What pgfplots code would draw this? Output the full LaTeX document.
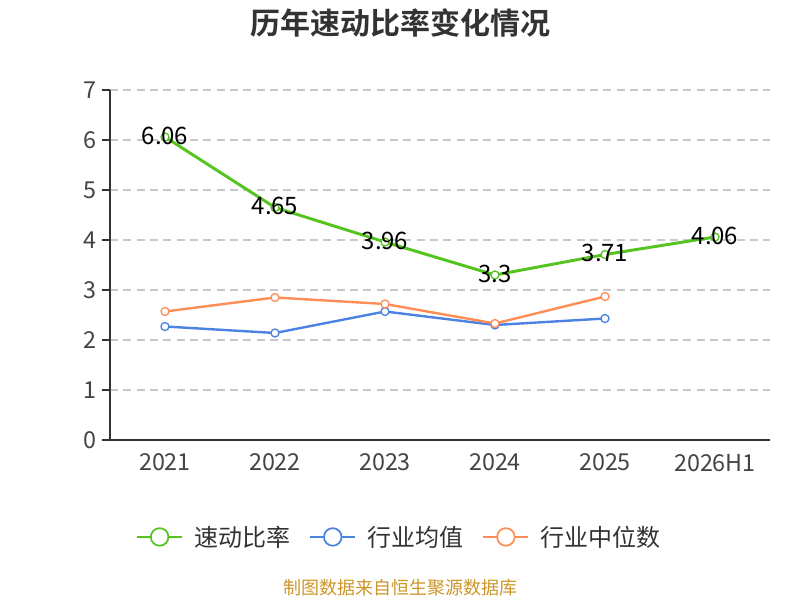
\documentclass[border=0pt]{standalone}
\usepackage{pgfplots}
\pgfplotsset{compat=1.18}
\usepackage{fontspec}
\setmainfont{Noto Sans CJK SC}[BoldFont={Noto Sans CJK SC Bold}]
\definecolor{cgreen}{RGB}{86,196,30}
\definecolor{cblue}{RGB}{76,130,226}
\definecolor{corange}{RGB}{255,141,86}
\definecolor{caxis}{RGB}{51,51,51}
\definecolor{ctick}{RGB}{68,68,68}
\definecolor{cgrid}{RGB}{200,200,200}
\definecolor{csrc}{RGB}{204,150,40}
\pgfplotsset{
  /pgfplots/legend image code/.code={
    \draw[#1, line width=1.6pt] (0pt,0pt) -- (33.75pt,0pt);
    \draw[#1, line width=1.3pt, fill=white] (16.9pt,0pt) circle (6.6pt);
  }
}
\begin{document}
\begin{tikzpicture}
\begin{axis}[
  width=495pt, height=262.5pt, scale only axis,
  xmin=-0.5, xmax=5.5, ymin=0, ymax=7,
  xtick={0,1,2,3,4,5},
  xticklabels={2021,2022,2023,2024,2025,2026H1},
  extra x ticks={-0.5,0.5,1.5,2.5,3.5,4.5,5.5},
  extra x tick labels={},
  extra x tick style={major tick length=6pt, tick style={caxis, line width=0.8pt}, grid=none},
  ytick={0,1,...,7},
  axis x line*=bottom, axis y line*=left,
  axis line style={caxis, line width=0.9pt, -},
  tick align=outside,
  xtick style={draw=none},
  ytick style={caxis, line width=0.8pt},
  major tick length=6pt,
  ymajorgrids, grid style={cgrid, dashed, dash pattern=on 6pt off 4pt, line width=0.8pt},
  x tick label style={font=\fontsize{17.5pt}{19pt}\selectfont, text=ctick, yshift=-1pt},
  y tick label style={font=\fontsize{17.5pt}{19pt}\selectfont, text=ctick, xshift=-1pt},
  /pgf/number format/assume math mode=true,
  legend columns=3,
  legend style={at={(0.439,-0.277)}, anchor=center, draw=none, fill=none,
    font=\fontsize{18pt}{20pt}\selectfont, text=caxis,
    /tikz/every odd column/.append style={column sep=6.5pt},
    /tikz/every even column/.append style={column sep=12pt}},
  legend cell align=left,
  clip=false,
]
\addplot[cgreen, line width=2.2pt, mark=*, mark size=3pt, mark options={fill=white, line width=1pt},
  nodes near coords, point meta=explicit symbolic,
  every node near coord/.append style={anchor=center, font=\fontsize{18pt}{20pt}\selectfont, text=black, yshift=1pt}]
  table[meta=l] {
x y l
0 6.06 6.06
1 4.65 4.65
2 3.96 3.96
3 3.30 3.3
4 3.71 3.71
5 4.06 4.06
};
\addlegendentry{速动比率}
\addplot[cblue, line width=1.8pt, mark=*, mark size=3pt, mark options={fill=white, line width=1pt}]
  coordinates {(0,2.27) (1,2.14) (2,2.57) (3,2.30) (4,2.43)};
\addlegendentry{行业均值}
\addplot[corange, line width=1.8pt, mark=*, mark size=3pt, mark options={fill=white, line width=1pt}]
  coordinates {(0,2.57) (1,2.85) (2,2.72) (3,2.33) (4,2.87)};
\addlegendentry{行业中位数}
\end{axis}
\begin{scope}[x=0.75pt,y=0.75pt]
\node[font=\fontsize{22.5pt}{24pt}\selectfont\bfseries, text=caxis] at (290,417) {历年速动比率变化情况};
\node[font=\fontsize{13.5pt}{15pt}\selectfont, text=csrc] at (290,-148) {制图数据来自恒生聚源数据库};
\path[use as bounding box] (-110,-160) rectangle (690,440);
\end{scope}
\end{tikzpicture}
\end{document}
